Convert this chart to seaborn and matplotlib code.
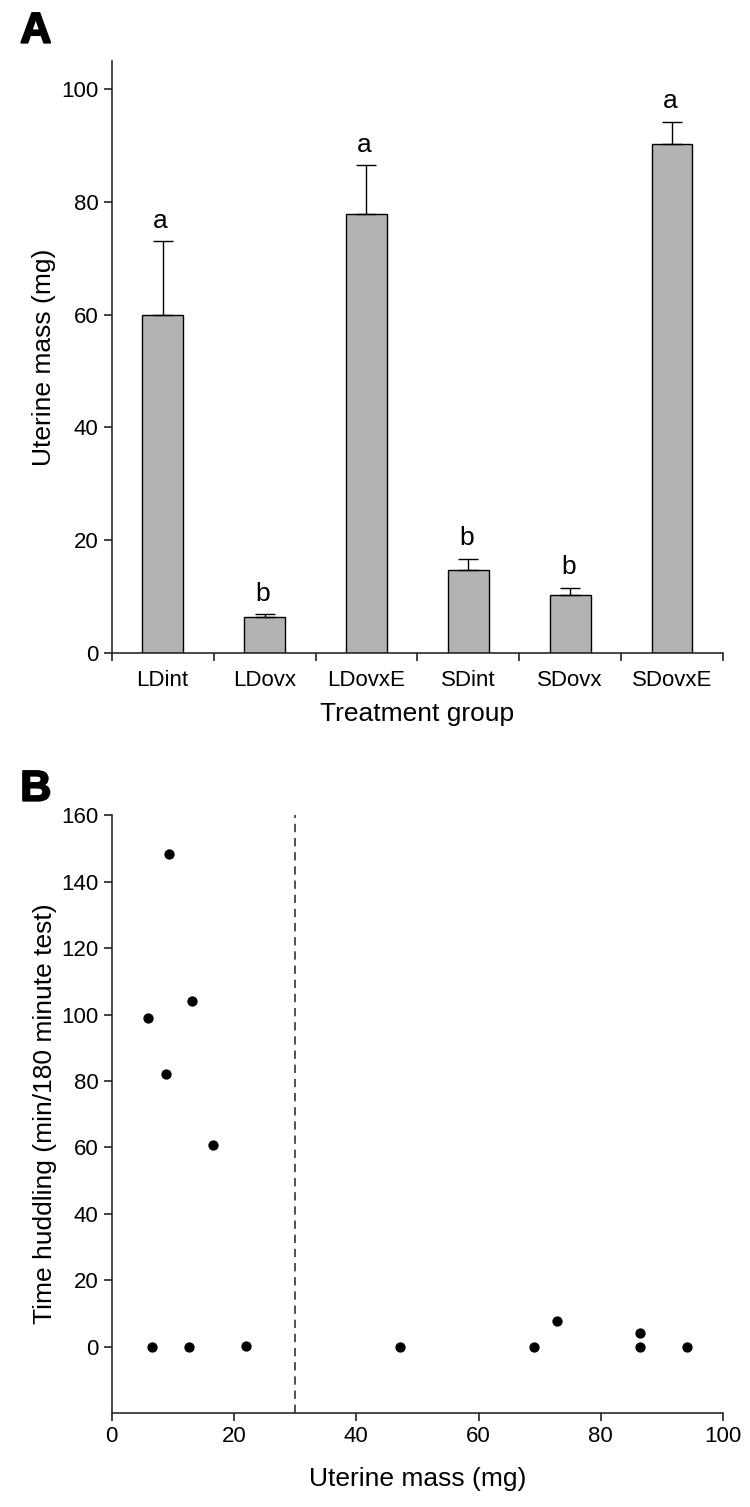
import numpy as np
import pandas as pd
import matplotlib
matplotlib.use("Agg")
import matplotlib.pyplot as plt
import matplotlib.patheffects as pe
import seaborn as sns

# Panel A: uterine mass per treatment group
groups = ["LDint", "LDovx", "LDovxE", "SDint", "SDovx", "SDovxE"]
mass_mean = [60.0, 6.3, 77.8, 14.8, 10.3, 90.3]
mass_err = [13.0, 0.6, 8.7, 1.9, 1.3, 3.9]
letters = ["a", "b", "a", "b", "b", "a"]

# Panel B: huddling time vs uterine mass
uterine_mass = [9.4, 13.1, 5.9, 8.9, 16.6, 6.6, 12.7, 22.0, 47.1, 69.1, 72.9, 86.4, 86.4, 94.1]
huddling = [148.3, 104.2, 99.0, 82.2, 60.8, 0.0, 0.0, 0.3, 0.0, 0.0, 7.7, 4.0, 0.0, 0.0]
cutoff = 30

sns.set_theme(style="ticks")
plt.rcParams["font.family"] = ["Liberation Sans", "DejaVu Sans"]
plt.rcParams["text.color"] = "black"
plt.rcParams["axes.labelcolor"] = "black"
plt.rcParams["xtick.labelcolor"] = "black"
plt.rcParams["ytick.labelcolor"] = "black"

fig = plt.figure(figsize=(7.5, 15.07), dpi=100)
axA = fig.add_axes([0.149, 0.5667, 0.815, 0.393])
axB = fig.add_axes([0.149, 0.0624, 0.815, 0.3966])

spine_col = "#2a2a2a"
tick_fs = 16
label_fs = 19

# -----------------------------
# A: bar chart
# -----------------------------
dfA = pd.DataFrame({"group": groups, "mass": mass_mean})
sns.barplot(data=dfA, x="group", y="mass", color="#b3b3b3", edgecolor="black",
            linewidth=1.0, width=0.4, saturation=1, ax=axA)
xs = np.arange(len(groups))
axA.errorbar(xs, mass_mean, yerr=[np.zeros(len(groups)), mass_err], fmt="none",
             ecolor="black", elinewidth=1.0, capsize=7, capthick=1.0)
for x, m, e, l in zip(xs, mass_mean, mass_err, letters):
    axA.text(x - 0.02, m + e + 1.5, l, ha="center", va="bottom", fontsize=19)

axA.set_xlim(-0.5, len(groups) - 0.5)
axA.set_ylim(0, 105)
axA.set_yticks([0, 20, 40, 60, 80, 100])
axA.set_xticks(np.arange(len(groups) + 1) - 0.5)
axA.set_xticklabels([])
axA.set_xticks(xs, minor=True)
axA.set_xticklabels(groups, minor=True)
axA.tick_params(axis="x", which="minor", length=0, pad=12, labelsize=tick_fs)
axA.tick_params(axis="x", which="major", length=6, color=spine_col)
axA.tick_params(axis="y", length=6, labelsize=tick_fs, color=spine_col)
axA.set_xlabel("Treatment group", fontsize=label_fs, labelpad=8)
axA.set_ylabel("Uterine mass (mg)", fontsize=label_fs, labelpad=4)
sns.despine(ax=axA)
for s in ["left", "bottom"]:
    axA.spines[s].set_color(spine_col)
    axA.spines[s].set_linewidth(1.2)

# -----------------------------
# B: scatter
# -----------------------------
dfB = pd.DataFrame({"mass": uterine_mass, "huddle": huddling})
sns.scatterplot(data=dfB, x="mass", y="huddle", color="black", s=55,
                edgecolor="black", linewidth=0, ax=axB)
axB.axvline(cutoff, color="#333333", linestyle=(0, (5, 3.5)), linewidth=1.2)
axB.set_xlim(0, 100)
axB.set_ylim(-20, 160)
axB.set_xticks([0, 20, 40, 60, 80, 100])
axB.set_yticks([0, 20, 40, 60, 80, 100, 120, 140, 160])
axB.tick_params(length=6, labelsize=tick_fs, color=spine_col)
axB.set_xlabel("Uterine mass (mg)", fontsize=label_fs, labelpad=14)
axB.set_ylabel("Time huddling (min/180 minute test)", fontsize=label_fs, labelpad=3)
sns.despine(ax=axB)
for s in ["left", "bottom"]:
    axB.spines[s].set_color(spine_col)
    axB.spines[s].set_linewidth(1.2)

# panel letters (heavy, like Arial Black)
heavy = [pe.withStroke(linewidth=1.4, foreground="black")]
fig.text(0.027, 0.979, "A", fontsize=31, fontweight="bold", ha="left", va="center",
         path_effects=heavy)
fig.text(0.027, 0.476, "B", fontsize=31, fontweight="bold", ha="left", va="center",
         path_effects=heavy)

fig.savefig("out.png", dpi=100)
